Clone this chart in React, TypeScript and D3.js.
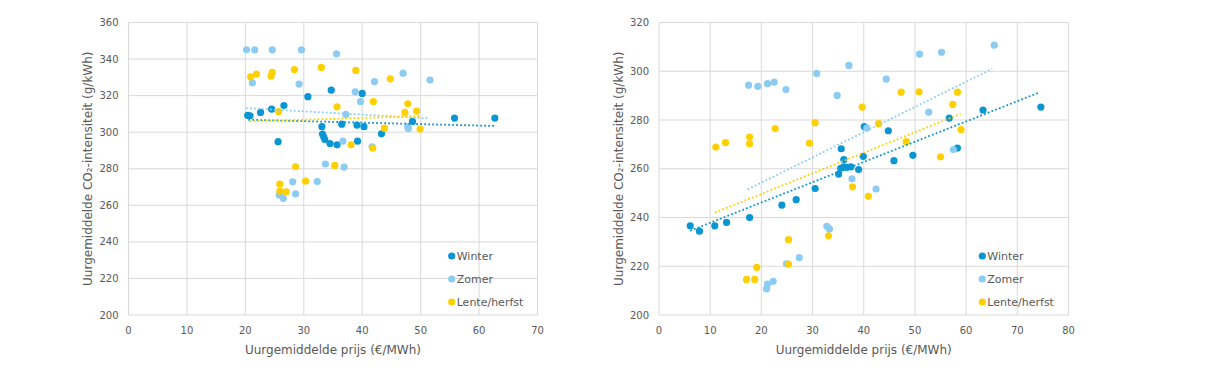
import React from "react";
import * as d3 from "d3";

type P = [number, number];

// ---------- Left chart data ----------
const leftWinter: P[] = [
  [20.4, 309.2], [20.8, 309], [22.6, 310.8], [24.5, 312.6], [26.6, 314.6],
  [25.6, 294.8], [30.7, 319.4], [34.7, 323], [40.0, 321.2], [33.1, 303],
  [33.2, 299], [33.4, 297.5], [33.6, 296], [34.5, 293.8], [35.7, 293.1],
  [36.5, 304.4], [39.1, 303.9], [40.3, 303], [39.2, 295.1], [43.3, 299.1],
  [48.6, 305.9], [55.8, 307.7], [62.7, 307.7],
];
const leftZomer: P[] = [
  [20.2, 345.1], [21.6, 345], [24.6, 345], [29.6, 345], [35.6, 342.9],
  [21.2, 327], [29.2, 326.3], [38.8, 322.1], [39.7, 316.8], [42.1, 327.7],
  [47.0, 332.3], [51.6, 328.5], [37.2, 309.7], [36.7, 295.1], [41.7, 292],
  [47.8, 303], [47.9, 302], [33.7, 282.6], [36.9, 280.9], [28.1, 272.9],
  [32.3, 273], [25.8, 265.6], [26.5, 263.8], [28.6, 266.3], [25.9, 266.5],
];
const leftLente: P[] = [
  [20.9, 330.3], [21.9, 331.8], [24.4, 330.7], [24.6, 332.8], [28.4, 334.3],
  [33.0, 335.4], [38.9, 333.8], [44.8, 329.2], [25.7, 311.3], [35.7, 313.9],
  [41.9, 316.8], [47.8, 315.5], [47.3, 310.8], [49.3, 311.5], [49.9, 301.7],
  [43.8, 302.2], [38.1, 293.1], [41.8, 291.3], [28.6, 281.1], [35.3, 281.8],
  [30.3, 273.3], [25.9, 271.6], [25.9, 267.8], [27.0, 267.4],
];
const leftTrendWinter: P[] = [[20.5, 306.8], [62.7, 303.4]];
const leftTrendZomer: P[] = [[20.1, 313.2], [51.2, 307.6]];
const leftTrendLente: P[] = [[20.7, 305.9], [49.9, 308.8]];
const leftXTicks = [0, 10, 20, 30, 40, 50, 60, 70];
const leftYTicks = [200, 220, 240, 260, 280, 300, 320, 340, 360];

// ---------- Right chart data ----------
const rightWinter: P[] = [
  [6.1, 236.6], [7.9, 234.4], [10.9, 236.6], [13.2, 238], [17.7, 240],
  [24.0, 245.1], [26.8, 247.3], [30.5, 251.9], [35.1, 257.8], [35.5, 260.2],
  [35.6, 268.2], [36.1, 263.8], [36.1, 260.8], [36.7, 260.6], [37.5, 260.8],
  [39.0, 259.7], [39.9, 265.1], [40.1, 277.3], [44.8, 275.6], [45.9, 263.3],
  [49.6, 265.5], [56.7, 280.8], [58.3, 268.5], [63.3, 284.1], [74.6, 285.3],
];
const rightZomer: P[] = [
  [17.5, 294.3], [19.3, 293.8], [21.2, 294.9], [22.5, 295.5], [24.8, 292.5],
  [34.8, 290.1], [30.8, 299.1], [37.1, 302.4], [44.4, 296.8], [50.9, 307],
  [55.2, 307.8], [65.5, 310.7], [52.7, 283.2], [40.6, 276.7], [37.7, 255.9],
  [42.4, 251.7], [57.5, 267.9], [32.8, 236.4], [33.3, 235.3], [27.4, 223.5],
  [24.9, 221.0], [21.2, 212.7], [22.3, 213.8], [21.0, 210.7],
];
const rightLente: P[] = [
  [11.1, 268.9], [13.0, 270.7], [17.7, 273], [17.7, 270.3], [22.7, 276.5],
  [29.4, 270.5], [30.5, 278.9], [39.7, 285.3], [42.9, 278.5], [47.3, 291.4],
  [50.8, 291.6], [58.3, 291.4], [57.4, 286.4], [59.0, 276.1], [48.3, 271.1],
  [55.0, 264.9], [37.8, 252.6], [40.9, 248.7], [33.1, 232.5], [25.3, 230.9],
  [25.3, 220.9], [19.1, 219.5], [17.1, 214.6], [18.7, 214.6],
];
const rightTrendWinter: P[] = [[6.1, 234.6], [74.3, 291.3]];
const rightTrendZomer: P[] = [[17.3, 251.5], [65.1, 301]];
const rightTrendLente: P[] = [[10.9, 242], [58.9, 282.5]];
const rightXTicks = [0, 10, 20, 30, 40, 50, 60, 70, 80];
const rightYTicks = [200, 220, 240, 260, 280, 300, 320];

const seriesNames = ["Winter", "Zomer", "Lente/herfst"];
const xTitle = "Uurgemiddelde prijs (€/MWh)";
const yTitle = "Uurgemiddelde CO₂-intensiteit (g/kWh)";

const COLORS = ["#0a96d2", "#8dccf2", "#ffd000"];
const FONT = "'DejaVu Sans', Verdana, sans-serif";
const TEXT = "#595959";
const GRID = "#d9d9d9";

interface ChartProps {
  left: number;
  right: number;
  top: number;
  bottom: number;
  xDomain: [number, number];
  yDomain: [number, number];
  xTicks: number[];
  yTicks: number[];
  series: P[][];
  trends: P[][];
  legendX: number;
  yTitleX: number;
}

function Chart(p: ChartProps) {
  const x = d3.scaleLinear().domain(p.xDomain).range([p.left, p.right]);
  const y = d3.scaleLinear().domain(p.yDomain).range([p.bottom, p.top]);
  const line = d3
    .line<P>()
    .x((d) => x(d[0]))
    .y((d) => y(d[1]));
  const cy = (p.top + p.bottom) / 2;
  const cx = (p.left + p.right) / 2;
  return (
    <g>
      {p.yTicks.map((t) => (
        <line key={"h" + t} x1={p.left} x2={p.right} y1={y(t)} y2={y(t)} stroke={GRID} strokeWidth={1} />
      ))}
      {p.xTicks.map((t) => (
        <line key={"v" + t} x1={x(t)} x2={x(t)} y1={p.top} y2={p.bottom} stroke={GRID} strokeWidth={1} />
      ))}
      {p.yTicks.map((t) => (
        <text key={"yl" + t} x={p.left - 10} y={y(t) + 3.5} textAnchor="end" fontSize={10} fill={TEXT} fontFamily={FONT}>
          {t}
        </text>
      ))}
      {p.xTicks.map((t) => (
        <text key={"xl" + t} x={x(t)} y={p.bottom + 19} textAnchor="middle" fontSize={10} fill={TEXT} fontFamily={FONT}>
          {t}
        </text>
      ))}
      <text x={cx} y={p.bottom + 39} textAnchor="middle" fontSize={12} fill={TEXT} fontFamily={FONT}>
        {xTitle}
      </text>
      <text
        transform={`translate(${p.yTitleX},${cy}) rotate(-90)`}
        textAnchor="middle"
        fontSize={12}
        fill={TEXT}
        fontFamily={FONT}
      >
        {yTitle}
      </text>
      {p.series.map((s, i) => (
        <g key={"s" + i}>
          {s.map((d, j) => (
            <circle key={j} cx={x(d[0])} cy={y(d[1])} r={3.6} fill={COLORS[i]} />
          ))}
        </g>
      ))}
      {p.trends.map((t, i) => (
        <path
          key={"t" + i}
          d={line(t) || ""}
          fill="none"
          stroke={COLORS[i]}
          strokeWidth={1.8}
          strokeDasharray="1.8 2.2"
        />
      ))}
      {seriesNames.map((n, i) => (
        <g key={"lg" + i}>
          <circle cx={p.legendX} cy={256 + i * 23} r={3.6} fill={COLORS[i]} />
          <text x={p.legendX + 5} y={256 + i * 23 + 4} fontSize={11} fill={TEXT} fontFamily={FONT}>
            {n}
          </text>
        </g>
      ))}
    </g>
  );
}

export default function App() {
  return (
    <svg
      width={1215}
      height={378}
      style={{ position: "absolute", left: 0, top: 0, background: "#fff", display: "block" }}
    >
      <rect width={1215} height={378} fill="#fff" />
      <Chart
        left={128.5}
        right={537.5}
        top={22.5}
        bottom={315}
        xDomain={[0, 70]}
        yDomain={[200, 360]}
        xTicks={leftXTicks}
        yTicks={leftYTicks}
        series={[leftWinter, leftZomer, leftLente]}
        trends={[leftTrendWinter, leftTrendZomer, leftTrendLente]}
        legendX={451.7}
        yTitleX={92}
      />
      <Chart
        left={659}
        right={1068.5}
        top={22.5}
        bottom={315}
        xDomain={[0, 80]}
        yDomain={[200, 320]}
        xTicks={rightXTicks}
        yTicks={rightYTicks}
        series={[rightWinter, rightZomer, rightLente]}
        trends={[rightTrendWinter, rightTrendZomer, rightTrendLente]}
        legendX={982.3}
        yTitleX={623}
      />
    </svg>
  );
}
